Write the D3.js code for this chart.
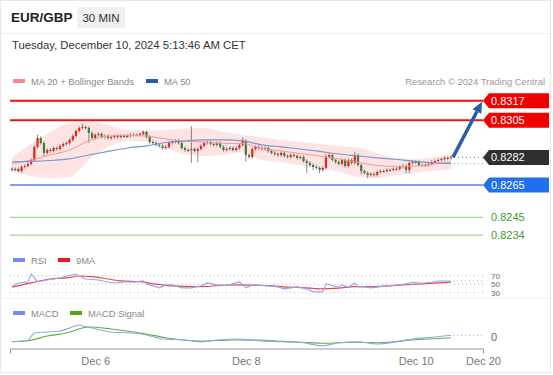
<!DOCTYPE html>
<html>
<head>
<meta charset="utf-8">
<script src="https://cdn.jsdelivr.net/npm/d3@7"></script>
<style>
  body { margin: 0; background: #fff; }
  svg { display: block; font-family: "Liberation Sans", Arial, sans-serif; }
</style>
</head>
<body>
<svg id="chart" width="553" height="375"></svg>
<script>
// 30 min candles, Dec 5 11:00 -> Dec 10 05:00 (close of each bar)
const firstOpen = 0.82750;
const closes = [
  0.82743, 0.82749, 0.82736, 0.82761, 0.82767, 0.82780, 0.82804, 0.82885, 0.82940, 0.82909,
  0.82848, 0.82866, 0.82860, 0.82878, 0.82872, 0.82891, 0.82903, 0.82909, 0.82928, 0.82952,
  0.82983, 0.83002, 0.83008, 0.83002, 0.82971, 0.82940, 0.82959, 0.82965, 0.82946, 0.82952,
  0.82940, 0.82946, 0.82952, 0.82946, 0.82952, 0.82952, 0.82952, 0.82959, 0.82959, 0.82959,
  0.82965, 0.82977, 0.82946, 0.82915, 0.82909, 0.82897, 0.82891, 0.82878, 0.82885, 0.82909,
  0.82915, 0.82922, 0.82909, 0.82878, 0.82866, 0.82866, 0.82872, 0.82860, 0.82872, 0.82891,
  0.82909, 0.82915, 0.82903, 0.82897, 0.82909, 0.82885, 0.82866, 0.82872, 0.82878, 0.82866,
  0.82878, 0.82897, 0.82922, 0.82835, 0.82823, 0.82872, 0.82885, 0.82878, 0.82872, 0.82878,
  0.82860, 0.82848, 0.82841, 0.82835, 0.82848, 0.82829, 0.82823, 0.82835, 0.82829, 0.82817,
  0.82823, 0.82798, 0.82786, 0.82773, 0.82761, 0.82755, 0.82743, 0.82755, 0.82823, 0.82835,
  0.82804, 0.82792, 0.82780, 0.82804, 0.82767, 0.82804, 0.82786, 0.82835, 0.82773, 0.82736,
  0.82724, 0.82712, 0.82718, 0.82712, 0.82730, 0.82736, 0.82736, 0.82743, 0.82743, 0.82749,
  0.82749, 0.82761, 0.82767, 0.82743, 0.82786, 0.82792, 0.82792, 0.82773, 0.82773, 0.82773,
  0.82780, 0.82792, 0.82798, 0.82804, 0.82810, 0.82817, 0.82817, 0.82820
];
// wick length beyond the body, in pips
const wickUp = [
  1,1,1,1,1,1,1,1,2,1, 1,1,1,1,1,1,1,1,1,1, 1,1,2,1,1,1,1,1,1,1, 1,1,1,1,1,1,1,1,1,1,
  1,1,1,1,1,1,1,1,1,1, 1,1,1,1,1,1,14,1,1,1, 1,1,1,1,1,1,1,1,1,1, 1,1,2,1,1,1,1,1,1,1,
  1,1,1,1,1,1,1,1,1,1, 1,1,1,1,1,1,1,1,2,1, 1,1,1,1,1,1,1,2,1,1, 1,1,1,1,1,1,1,1,1,1,
  1,1,1,1,1,1,1,1,1,1, 1,1,1,1,1,1,1,1
];
const wickDn = [
  1,1,1,1,1,1,1,1,1,1, 2,1,1,1,1,1,1,1,1,1, 1,1,1,1,6,1,1,1,1,1, 1,1,1,1,1,1,1,1,1,1,
  1,1,1,1,1,1,1,1,1,1, 1,1,1,1,1,1,8,1,7,1, 1,1,1,1,1,1,1,1,1,1, 1,1,1,4,1,1,1,1,1,1,
  1,1,1,1,1,1,1,1,1,1, 1,1,6,1,2,1,2,1,1,1, 1,1,1,1,1,1,1,1,1,2, 1,2,1,1,1,1,1,1,1,1,
  1,1,1,2,2,1,1,1,1,1, 1,1,1,1,1,1,1,1
];

// moving averages + bollinger, sampled at these bar indexes
const bandIdx = [0, 6, 12, 18, 24, 30, 36, 42, 48, 54, 60, 66, 72, 78, 84, 90, 96, 102, 108, 114, 120, 126, 132, 137];
const ma20 = [0.82780, 0.82804, 0.82835, 0.82866, 0.82922, 0.82952, 0.82956, 0.82952, 0.82934, 0.82919, 0.82915, 0.82906,
              0.82906, 0.82875, 0.82860, 0.82844, 0.82829, 0.82811, 0.82789, 0.82770, 0.82764, 0.82767, 0.82780, 0.82792];
const bbUpper = [0.82820, 0.82903, 0.82977, 0.83033, 0.83039, 0.83020, 0.82990, 0.82986, 0.82990, 0.82999, 0.83001, 0.82977,
                 0.82958, 0.82946, 0.82928, 0.82915, 0.82903, 0.82891, 0.82879, 0.82847, 0.82816, 0.82810, 0.82823, 0.82835];
const bbLower = [0.82740, 0.82705, 0.82693, 0.82699, 0.82805, 0.82884, 0.82922, 0.82918, 0.82878, 0.82839, 0.82829, 0.82835,
                 0.82854, 0.82804, 0.82792, 0.82773, 0.82755, 0.82731, 0.82699, 0.82693, 0.82712, 0.82724, 0.82737, 0.82749];
const ma50 = [0.82792, 0.82795, 0.82801, 0.82811, 0.82835, 0.82857, 0.82878, 0.82891, 0.82912, 0.82922, 0.82928, 0.82928,
              0.82922, 0.82897, 0.82885, 0.82872, 0.82857, 0.82841, 0.82829, 0.82817, 0.82807, 0.82795, 0.82786, 0.82783];

// RSI and its 9 period MA
const rsiIdx = [0, 2, 5, 6, 7, 8, 11, 15, 17, 20, 21, 23, 27, 30, 32, 35, 38, 41, 42, 44, 46, 48, 50, 53, 56, 59, 61, 64, 67,
                71, 73, 75, 80, 83, 85, 89, 92, 94, 97, 98, 100, 102, 103, 105, 107, 108, 110, 112, 115, 119, 122, 125, 128, 131, 133, 137];
const rsiVal = [44.4, 53, 55.3, 74, 64.7, 55.3, 60, 64.7, 69.3, 74, 69.3, 62.3, 60, 55.3, 53, 55.3, 55.3, 57.7, 50.7, 46, 41.4,
                48.4, 48.4, 41.4, 41.4, 46, 53, 48.4, 47, 55.3, 41.4, 48.4, 46, 43.7, 39, 43.7, 39, 32, 32, 50.7, 47, 42.6, 48.4,
                42.6, 53, 43.7, 43.7, 41.4, 44.4, 47, 49.5, 54.7, 52.3, 54.7, 57.7, 57.7];
const rsiMaIdx = [0, 7, 12, 17, 21, 25, 30, 34, 40, 45, 50, 59, 69, 80, 84, 86, 91, 96, 102, 107, 112, 122, 128, 137];
const rsiMaVal = [43, 55, 62.3, 64.7, 69.3, 67.7, 62.3, 57.7, 56, 50, 46, 44.4, 48.4, 46.7, 44.4, 43, 42, 39, 40.7, 44.4, 44.4,
                  48.4, 50.7, 54.7];
const rsiLevels = [70, 50, 30];

// MACD and signal
const macdIdx = [0, 5, 7, 11, 15, 18, 21, 22, 25, 31, 38, 42, 47, 54, 59, 64, 71, 75, 83, 89, 97, 102, 108, 114, 120, 125, 131, 137];
const macdVal = [-0.00019, -0.00012, 0.00016, 0.00020, 0.00024, 0.00036, 0.00048, 0.00044, 0.00036, 0.00020, 0.00016, 0.00008,
                 -0.00008, -0.00012, -0.00020, -0.00012, -0.00008, -0.00012, -0.00019, -0.00020, -0.00035, -0.00023, -0.00019,
                 -0.00028, -0.00019, -0.00008, -0.00001, 0.00007];
const signalIdx = [0, 5, 11, 17, 24, 31, 40, 48, 59, 69, 83, 89, 97, 107, 115, 125, 137];
const signalVal = [-0.00019, -0.00015, 0.00004, 0.00016, 0.00040, 0.00032, 0.00016, -0.00003, -0.00016, -0.00012, -0.00016,
                   -0.00021, -0.00025, -0.00021, -0.00023, -0.00012, -0.00003];

// levels
const resistances = [0.8317, 0.8305];
const pivot = 0.8265;
const supports = [0.8245, 0.8234];
const lastPrice = 0.8282;
const target = 0.8317;

const tickIdx = [26, 73, 126, 147];
const tickLabels = ['Dec 6', 'Dec 8', 'Dec 10', 'Dec 20'];

const svg = d3.select('#chart');

const x = d3.scaleLinear().domain([-0.6, 147]).range([10, 483]);
const y = d3.scaleLinear().domain([0.8234, 0.8317]).range([235.2, 100.7]);
const yRsi = d3.scaleLinear().domain([30, 70]).range([292.7, 275.7]);
const yMacd = d3.scaleLinear().domain([-0.0004, 0.0005]).range([347, 324.5]);
const left = x.range()[0], right = x.range()[1];

// frame + header
svg.append('rect').attr('x', 0.5).attr('y', 0.5).attr('width', 550).attr('height', 372)
  .attr('fill', '#fff').attr('stroke', '#e4e7eb');
svg.append('line').attr('x1', 1).attr('x2', 550).attr('y1', 33.5).attr('y2', 33.5).attr('stroke', '#eceef1');
svg.append('line').attr('x1', 1).attr('x2', 550).attr('y1', 298.5).attr('y2', 298.5).attr('stroke', '#f0f1f3');

svg.append('text').attr('x', 11).attr('y', 22).style('font-size', '13.5px').style('font-weight', 'bold')
  .attr('fill', '#222').text('EUR/GBP');
svg.append('rect').attr('x', 77).attr('y', 7).attr('width', 48).attr('height', 21).attr('rx', 2).attr('fill', '#eef0f2');
svg.append('text').attr('x', 101).attr('y', 22).attr('text-anchor', 'middle').style('font-size', '11.5px')
  .attr('fill', '#333').text('30 MIN');
svg.append('text').attr('x', 12).attr('y', 49).style('font-size', '11.3px').attr('fill', '#333')
  .text('Tuesday, December 10, 2024 5:13:46 AM CET');

// legends
function legend(lx, ly, color, label) {
  svg.append('rect').attr('x', lx).attr('y', ly - 2).attr('width', 12).attr('height', 4).attr('fill', color);
  svg.append('text').attr('x', lx + 18).attr('y', ly + 3.5).style('font-size', '9.4px').attr('fill', '#888').text(label);
}
legend(13, 81, '#f48a8a', 'MA 20 + Bollinger Bands');
legend(146, 81, '#2b5aa0', 'MA 50');
svg.append('text').attr('x', 545).attr('y', 84.5).attr('text-anchor', 'end').style('font-size', '9.4px')
  .attr('fill', '#999').text('Research \u00a9 2024 Trading Central');
legend(13, 260, '#6f8ff0', 'RSI');
legend(58, 260, '#f01818', '9MA');
legend(13, 313, '#6f8ff0', 'MACD');
legend(70, 313, '#4ca81a', 'MACD Signal');

// bollinger band
const band = bandIdx.map((d, i) => ({ i: d, ma: ma20[i], up: bbUpper[i], lo: bbLower[i], ma50: ma50[i] }));
svg.append('path').datum(band)
  .attr('d', d3.area().x(d => x(d.i)).y0(d => y(d.lo)).y1(d => y(d.up)).curve(d3.curveMonotoneX))
  .attr('fill', '#fde3e3');

// level lines
resistances.forEach(v => {
  svg.append('line').attr('x1', left).attr('x2', right).attr('y1', y(v)).attr('y2', y(v))
    .attr('stroke', '#f01010').attr('stroke-width', 2);
});
svg.append('line').attr('x1', left).attr('x2', right).attr('y1', y(pivot)).attr('y2', y(pivot))
  .attr('stroke', '#4d82e6').attr('stroke-width', 1.5);
supports.forEach(v => {
  svg.append('line').attr('x1', left).attr('x2', right).attr('y1', y(v)).attr('y2', y(v))
    .attr('stroke', '#a6d49a').attr('stroke-width', 1.3);
  svg.append('text').attr('x', 491).attr('y', y(v) + 4).style('font-size', '11px').attr('fill', '#3f9c2c')
    .text(v.toFixed(4));
});

// candles
const candles = closes.map((c, i) => {
  const o = i === 0 ? firstOpen : closes[i - 1];
  return { i, o, c, h: Math.max(o, c) + wickUp[i] / 1e4, l: Math.min(o, c) - wickDn[i] / 1e4 };
});
const bar = svg.append('g').selectAll('g').data(candles).enter().append('g');
bar.append('line')
  .attr('x1', d => x(d.i)).attr('x2', d => x(d.i))
  .attr('y1', d => y(d.h)).attr('y2', d => y(d.l))
  .attr('stroke', '#666').attr('stroke-width', 0.8);
bar.append('rect')
  .attr('x', d => x(d.i) - 1.1).attr('width', 2.2)
  .attr('y', d => y(Math.max(d.o, d.c)))
  .attr('height', d => Math.max(1, y(Math.min(d.o, d.c)) - y(Math.max(d.o, d.c))))
  .attr('fill', d => d.c > d.o ? '#e8231c' : (d.c < d.o ? '#3b7f34' : '#555'));

// moving averages
const lineGen = (yf) => d3.line().x(d => x(d.i)).y(yf).curve(d3.curveMonotoneX);
svg.append('path').datum(band).attr('d', lineGen(d => y(d.ma))).attr('fill', 'none')
  .attr('stroke', '#f59a9a').attr('stroke-width', 1);
svg.append('path').datum(band).attr('d', lineGen(d => y(d.ma50))).attr('fill', 'none')
  .attr('stroke', '#7b96cc').attr('stroke-width', 1.2);

// last price + ma50 dotted extensions
const lastIdx = closes.length - 1;
svg.append('line').attr('x1', x(lastIdx) + 3).attr('x2', right).attr('y1', y(lastPrice)).attr('y2', y(lastPrice))
  .attr('stroke', '#666').attr('stroke-dasharray', '1,3');
svg.append('line').attr('x1', x(lastIdx) + 3).attr('x2', right)
  .attr('y1', y(ma50[ma50.length - 1])).attr('y2', y(ma50[ma50.length - 1]))
  .attr('stroke', '#7b96cc').attr('stroke-dasharray', '1,3');

// projection arrow
const ax0 = x(lastIdx) + 2, ay0 = y(lastPrice);
const ax1 = right - 1, ay1 = y(target) + 1;
const ang = Math.atan2(ay1 - ay0, ax1 - ax0);
const hl = 11, hw = 5;
const bx = ax1 - hl * Math.cos(ang), by = ay1 - hl * Math.sin(ang);
svg.append('line').attr('x1', ax0).attr('y1', ay0).attr('x2', bx).attr('y2', by)
  .attr('stroke', '#2b5ca8').attr('stroke-width', 3.5);
svg.append('path')
  .attr('d', `M${ax1},${ay1} L${bx + hw * Math.sin(ang)},${by - hw * Math.cos(ang)} L${bx - hw * Math.sin(ang)},${by + hw * Math.cos(ang)} Z`)
  .attr('fill', '#2b5ca8');

// price tags
function tag(v, fill) {
  const cy = y(v), h = 7.5;
  svg.append('path')
    .attr('d', `M${right},${cy} L${right + 6},${cy - h} H549 V${cy + h} H${right + 6} Z`)
    .attr('fill', fill);
  svg.append('text').attr('x', 491).attr('y', cy + 4).style('font-size', '11px').attr('fill', '#fff')
    .text(v.toFixed(4));
}
tag(resistances[0], '#f20000');
tag(resistances[1], '#f20000');
tag(lastPrice, '#2f2f2f');
tag(pivot, '#1f6ff0');

// RSI panel
rsiLevels.forEach(v => {
  svg.append('line').attr('x1', left).attr('x2', right).attr('y1', yRsi(v)).attr('y2', yRsi(v))
    .attr('stroke', '#bbb').attr('stroke-dasharray', '1,3');
});
const rsi = rsiIdx.map((d, i) => ({ i: d, v: rsiVal[i] }));
const rsiMa = rsiMaIdx.map((d, i) => ({ i: d, v: rsiMaVal[i] }));
svg.append('path').datum(rsiMa).attr('d', lineGen(d => yRsi(d.v))).attr('fill', 'none')
  .attr('stroke', '#f04545').attr('stroke-width', 1.2);
svg.append('path').datum(rsi).attr('d', d3.line().x(d => x(d.i)).y(d => yRsi(d.v))).attr('fill', 'none')
  .attr('stroke', '#8ea6f0').attr('stroke-width', 1.1);
svg.append('line').attr('x1', x(lastIdx) + 2).attr('x2', right)
  .attr('y1', yRsi(rsiVal[rsiVal.length - 1])).attr('y2', yRsi(rsiVal[rsiVal.length - 1]))
  .attr('stroke', '#8ea6f0').attr('stroke-dasharray', '1,3');
// small labels so the three levels do not collide
rsiLevels.forEach(v => {
  svg.append('text').attr('x', 491).attr('y', yRsi(v) + 3).style('font-size', '8px').attr('fill', '#666').text(v);
});

// MACD panel
const macd = macdIdx.map((d, i) => ({ i: d, v: macdVal[i] }));
const signal = signalIdx.map((d, i) => ({ i: d, v: signalVal[i] }));
svg.append('path').datum(signal).attr('d', lineGen(d => yMacd(d.v))).attr('fill', 'none')
  .attr('stroke', '#62b236').attr('stroke-width', 1.2);
svg.append('path').datum(macd).attr('d', lineGen(d => yMacd(d.v))).attr('fill', 'none')
  .attr('stroke', '#8ea6f0').attr('stroke-width', 1.2);
svg.append('line').attr('x1', x(lastIdx) + 2).attr('x2', right)
  .attr('y1', yMacd(macdVal[macdVal.length - 1])).attr('y2', yMacd(macdVal[macdVal.length - 1]))
  .attr('stroke', '#8ea6f0').attr('stroke-dasharray', '1,3');
svg.append('text').attr('x', 491).attr('y', yMacd(0) + 4).style('font-size', '11px').attr('fill', '#666').text('0');

// time axis
const xAxis = d3.axisBottom(x)
  .tickValues(tickIdx)
  .tickFormat((d, i) => tickLabels[i])
  .tickSizeInner(0)
  .tickSizeOuter(5)
  .tickPadding(9);
const gx = svg.append('g').attr('transform', 'translate(0,348.5)').call(xAxis);
gx.select('.domain').attr('stroke', '#999');
gx.selectAll('text').attr('fill', '#777').style('font-size', '11px')
  .style('font-family', '"Liberation Sans", Arial, sans-serif');
</script>
</body>
</html>
